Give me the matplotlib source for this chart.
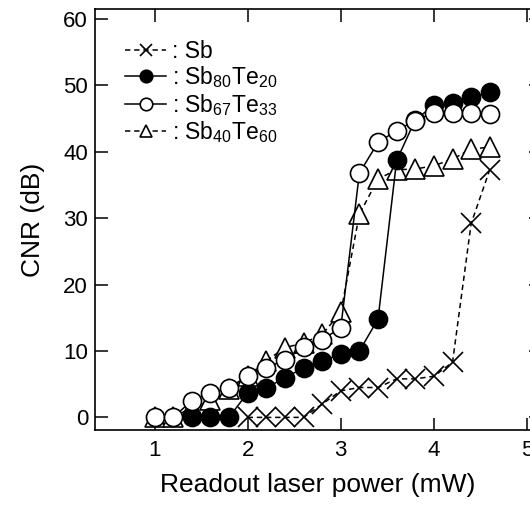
import matplotlib
matplotlib.use("Agg")
import matplotlib.pyplot as plt
from matplotlib.lines import Line2D

plt.rcParams['font.family'] = ['Liberation Sans', 'DejaVu Sans']
plt.rcParams['mathtext.fontset'] = 'custom'
plt.rcParams['mathtext.rm'] = 'Liberation Sans'
plt.rcParams['mathtext.it'] = 'Liberation Sans'

# Data
sb_x = [2.0, 2.2, 2.4, 2.6, 2.8, 3.0, 3.2, 3.4, 3.6, 3.8, 4.0, 4.2, 4.4, 4.6]
sb_y = [0.0, 0.0, 0.0, 0.0, 2.0, 4.0, 4.5, 4.5, 5.8, 5.8, 6.2, 8.3, 29.2, 37.3]

sb80_x = [1.4, 1.6, 1.8, 2.0, 2.2, 2.4, 2.6, 2.8, 3.0, 3.2, 3.4, 3.6, 3.8, 4.0, 4.2, 4.4, 4.6]
sb80_y = [0.0, 0.0, 0.0, 3.7, 4.4, 6.0, 7.4, 8.5, 9.5, 10.0, 14.8, 38.7, 44.8, 47.0, 47.4, 48.2, 49.0]

sb67_x = [1.0, 1.2, 1.4, 1.6, 1.8, 2.0, 2.2, 2.4, 2.6, 2.8, 3.0, 3.2, 3.4, 3.6, 3.8, 4.0, 4.2, 4.4, 4.6]
sb67_y = [0.0, 0.0, 2.5, 3.7, 4.5, 6.2, 7.5, 8.6, 10.6, 11.7, 13.5, 36.8, 41.4, 43.2, 44.7, 45.9, 45.9, 45.9, 45.7]

sb40_x = [1.0, 1.2, 1.4, 1.6, 1.8, 2.0, 2.2, 2.4, 2.6, 2.8, 3.0, 3.2, 3.4, 3.6, 3.8, 4.0, 4.2, 4.4, 4.6]
sb40_y = [0.0, 0.0, 1.5, 2.6, 4.3, 6.2, 8.5, 10.5, 11.2, 12.5, 15.8, 30.6, 35.9, 37.3, 37.4, 37.9, 38.9, 40.4, 40.7]

labels = [': Sb',
          r': Sb$_{\mathregular{80}}$Te$_{\mathregular{20}}$',
          r': Sb$_{\mathregular{67}}$Te$_{\mathregular{33}}$',
          r': Sb$_{\mathregular{40}}$Te$_{\mathregular{60}}$']

fig = plt.figure(figsize=(5.30, 5.05), dpi=100)
ax = fig.add_axes([95/530, 75/505, 446/530, 421/505])

lw = 1.1
mew = 1.2
dash = (0, (3.5, 2.5))

ax.plot(sb_x, sb_y, linestyle=dash, color='black', lw=lw, marker='x', ms=14,
        mew=mew, mfc='none', mec='black', zorder=2)
ax.plot(sb40_x, sb40_y, linestyle=dash, color='black', lw=lw, marker='^', ms=14,
        mew=mew, mfc='white', mec='black', zorder=3)
ax.plot(sb80_x, sb80_y, linestyle='-', color='black', lw=lw, marker='o', ms=13,
        mew=mew, mfc='black', mec='black', zorder=4)
ax.plot(sb67_x, sb67_y, linestyle='-', color='black', lw=lw, marker='o', ms=13,
        mew=mew, mfc='white', mec='black', zorder=5)

ax.set_xlim(0.361, 5.15)
ax.set_ylim(-1.9, 61.5)
ax.set_xticks([1, 2, 3, 4, 5])
ax.set_yticks([0, 10, 20, 30, 40, 50, 60])
ax.tick_params(direction='in', length=9, width=1.1, top=True, right=True,
               labelsize=16)
ax.tick_params(axis='x', pad=7)
ax.tick_params(axis='y', pad=5)
for s in ax.spines.values():
    s.set_linewidth(1.2)

ax.set_xlabel('Readout laser power (mW)', fontsize=19, labelpad=9)
ax.set_ylabel('CNR (dB)', fontsize=19, labelpad=13)

handles = [
    Line2D([], [], linestyle=dash, color='black', lw=lw, marker='x', ms=9, mew=mew),
    Line2D([], [], linestyle='-', color='black', lw=lw, marker='o', ms=9, mew=mew,
           mfc='black', mec='black'),
    Line2D([], [], linestyle='-', color='black', lw=lw, marker='o', ms=9, mew=mew,
           mfc='white', mec='black'),
    Line2D([], [], linestyle=dash, color='black', lw=lw, marker='^', ms=9, mew=mew,
           mfc='white', mec='black'),
]
ax.legend(handles, labels, loc='upper left', bbox_to_anchor=(0.047, 0.948),
          frameon=False, fontsize=16.5, handlelength=1.8, handletextpad=0.25,
          labelspacing=0.06, borderaxespad=0.0)

fig.savefig('out.png', dpi=100)
